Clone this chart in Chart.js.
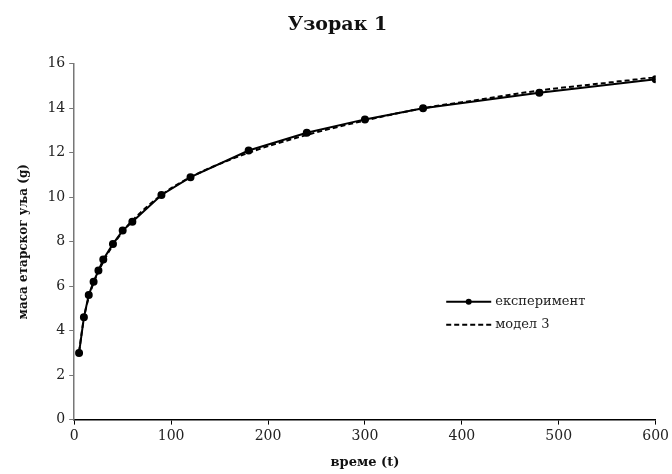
<!DOCTYPE html>
<html>
<head>
<meta charset="utf-8">
<script src="https://cdn.jsdelivr.net/npm/chart.js@4/dist/chart.umd.min.js"></script>
<style>
  html, body { margin: 0; padding: 0; background: #fff; }
  #wrap { width: 672px; height: 474px; }
</style>
</head>
<body>
<div id="wrap"><canvas id="c" width="672" height="474"></canvas></div>
<script>
// Time points (t) and measured mass
const timeExp = [5, 10, 15, 20, 25, 30, 40, 50, 60, 90, 120, 180, 240, 300, 360, 480, 600];
const massExp = [3.0, 4.6, 5.6, 6.2, 6.7, 7.2, 7.9, 8.5, 8.9, 10.1, 10.9, 12.1, 12.9, 13.5, 14.0, 14.7, 15.3];

// Model 3 curve
const timeModel = [5, 10, 15, 20, 25, 30, 40, 50, 60, 90, 120, 180, 240, 300, 360, 420, 480, 540, 600];
const massModel = [3.05, 4.55, 5.5, 6.15, 6.65, 7.1, 7.85, 8.45, 8.95, 10.1, 10.9, 12.0, 12.8, 13.45, 14.0, 14.4, 14.8, 15.1, 15.4];

const xTicks = [0, 100, 200, 300, 400, 500, 600];
const yTicks = [0, 2, 4, 6, 8, 10, 12, 14, 16];

const SERIF = "'DejaVu Serif', 'Liberation Serif', serif";

const toXY = (xs, ys) => xs.map((x, i) => ({ x: x, y: ys[i] }));

// Legend drawn inside the plot area, lower right
const innerLegend = {
  id: 'innerLegend',
  afterDraw(chart) {
    const { ctx, chartArea } = chart;
    const x0 = chartArea.left + 372, x1 = x0 + 45;
    const rows = [chartArea.top + 238, chartArea.top + 261];
    ctx.save();
    chart.data.datasets.forEach((ds, i) => {
      const y = rows[i];
      ctx.strokeStyle = ds.borderColor;
      ctx.lineWidth = ds.borderWidth;
      ctx.setLineDash(ds.borderDash || []);
      ctx.beginPath();
      ctx.moveTo(x0, y);
      ctx.lineTo(x1, y);
      ctx.stroke();
      ctx.setLineDash([]);
      if (ds.pointRadius > 0) {
        ctx.fillStyle = ds.pointBackgroundColor;
        ctx.beginPath();
        ctx.arc((x0 + x1) / 2, y, ds.pointRadius, 0, Math.PI * 2);
        ctx.fill();
      }
      ctx.fillStyle = '#222';
      ctx.font = "13px " + SERIF;
      ctx.textBaseline = 'middle';
      ctx.textAlign = 'left';
      ctx.fillText(ds.label, x1 + 4, y);
    });
    ctx.restore();
  }
};

new Chart(document.getElementById('c'), {
  type: 'scatter',
  data: {
    datasets: [
      {
        label: 'експеримент',
        data: toXY(timeExp, massExp),
        showLine: true,
        borderColor: '#000',
        borderWidth: 2,
        pointRadius: 3,
        pointBackgroundColor: '#000',
        pointBorderColor: '#000',
        tension: 0,
        order: 1
      },
      {
        label: 'модел 3',
        data: toXY(timeModel, massModel),
        showLine: true,
        borderColor: '#000',
        borderWidth: 2,
        borderDash: [5, 3],
        pointRadius: 0,
        pointBackgroundColor: '#000',
        tension: 0.4,
        cubicInterpolationMode: 'monotone',
        order: 2
      }
    ]
  },
  options: {
    responsive: false,
    animation: false,
    layout: { padding: { left: 17, right: 14, top: 2, bottom: 4 } },
    plugins: {
      legend: { display: false },
      tooltip: { enabled: false },
      title: {
        display: true,
        text: 'Узорак 1',
        color: '#111',
        font: { family: SERIF, size: 19, weight: 'bold' },
        padding: { top: 12, bottom: 27 }
      }
    },
    scales: {
      x: {
        type: 'linear',
        min: 0, max: 600,
        afterBuildTicks: (s) => { s.ticks = xTicks.map(v => ({ value: v })); },
        grid: { drawOnChartArea: false, drawTicks: true, tickLength: 5, color: '#000' },
        border: { color: '#000', width: 1.5 },
        ticks: { color: '#222', font: { family: SERIF, size: 14 }, padding: 3, maxRotation: 0 },
        title: { display: true, text: 'време (t)', color: '#111', font: { family: SERIF, size: 13, weight: 'bold' }, padding: { top: 7, bottom: 0 } }
      },
      y: {
        type: 'linear',
        min: 0, max: 16,
        afterBuildTicks: (s) => { s.ticks = yTicks.map(v => ({ value: v })); },
        grid: { drawOnChartArea: false, drawTicks: true, tickLength: 5, color: '#777' },
        border: { color: '#777', width: 1.5 },
        ticks: { color: '#222', font: { family: SERIF, size: 14 }, padding: 4 },
        title: { display: true, text: 'маса етарског уља (g)', color: '#111', font: { family: SERIF, size: 12, weight: 'bold' }, padding: { top: 0, bottom: 12 } }
      }
    }
  },
  plugins: [innerLegend]
});
</script>
</body>
</html>
